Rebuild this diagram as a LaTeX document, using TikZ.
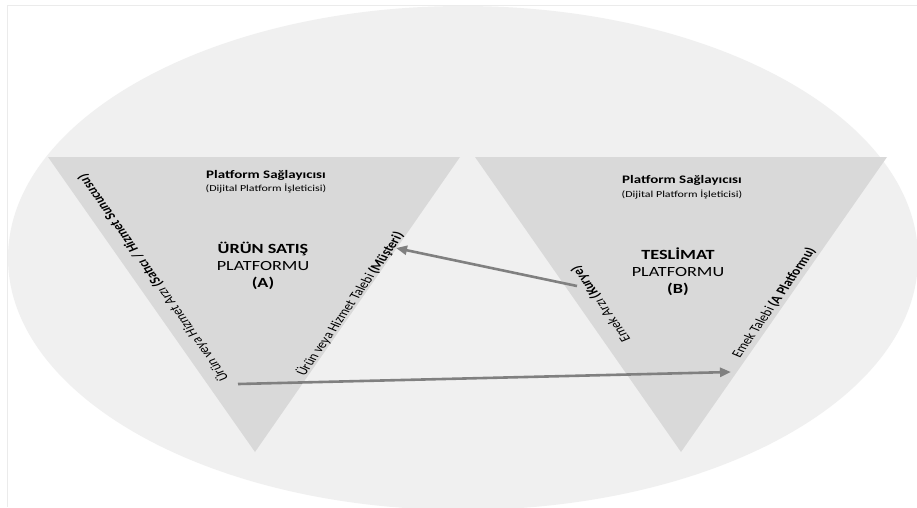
\documentclass[tikz,border=0pt]{standalone}
\usepackage{fontspec}
\setmainfont{Carlito}
\usetikzlibrary{arrows.meta}
\def\platA{(48,157) -- (460,157) -- (255,452) -- cycle}
\def\platB{(475,157) -- (887,157) -- (681,452) -- cycle}
\colorlet{oval area}{black!6}
\colorlet{plat area}{black!15}
\colorlet{flow line}{black!50}
\tikzset{plat/.style={fill=plat area},
    flow/.style={draw=flow line, line width=2.6pt, -{Triangle[length=11pt,width=9pt]}},
    head/.style={font=\bfseries\fontsize{11.5}{13}\selectfont, inner sep=0pt, anchor=base, xscale=1.3},
    subhead/.style={font=\fontsize{9.2}{11}\selectfont, inner sep=0pt, anchor=base, xscale=1.3},
    platname/.style={align=center, font=\fontsize{14}{17}\selectfont, xscale=1.3},
    side/.style={font=\fontsize{11.6}{14}\selectfont, inner sep=1pt, xscale=1.3}}

\begin{document}
\begin{tikzpicture}[x=1pt, y=-1pt]
    \useasboundingbox (0,0) rectangle (917,507);
    \clip (0,0) rectangle (917,507);
    \fill[white] (0,0) rectangle (917,507);
    \draw[black!8, line width=1pt] (7,507) -- (7,5) -- (917,5);
    \fill[oval area] (463,258) ellipse [x radius=455, y radius=252];
    \fill[plat] \platA;
    \fill[plat] \platB;

    % platform A
    \node[head] (headA) at (266,178) {Platform Sağlayıcısı};
    \node[subhead] (subA) at (266,191.5) {(Dijital Platform İşleticisi)};
    \node[platname] (nameA) at (263,266) {\textbf{ÜRÜN SATIŞ}\\PLATFORMU\\\textbf{(A)}};
    \node[side, rotate=118.3] (arzA) at (153,278)
        {Ürün veya Hizmet Arzı \textbf{(Satıcı / Hizmet Sunucusu)}};
    \node[side, rotate=61.7] (talepA) at (350,304)
        {Ürün veya Hizmet Talebi \textbf{(Müşteri)}};

    % platform B
    \node[head] (headB) at (682,183.5) {Platform Sağlayıcısı};
    \node[subhead] (subB) at (682,197) {(Dijital Platform İşleticisi)};
    \node[platname] (nameB) at (678,272) {\textbf{TESLİMAT}\\PLATFORMU\\\textbf{(B)}};
    \node[side, rotate=118.3] (arzB) at (601,304) {Emek Arzı \textbf{(Kurye)}};
    \node[side, rotate=61.7] (talepB) at (774,303) {Emek Talebi \textbf{(A Platformu)}};

    \coordinate (kurye) at (577,286);
    \coordinate (musteri) at (396,248);
    \coordinate (satici) at (238,384);
    \coordinate (emek) at (731,372);
    \draw[flow] (kurye) -- (musteri);
    \draw[flow] (satici) -- (emek);
\end{tikzpicture}
\end{document}
